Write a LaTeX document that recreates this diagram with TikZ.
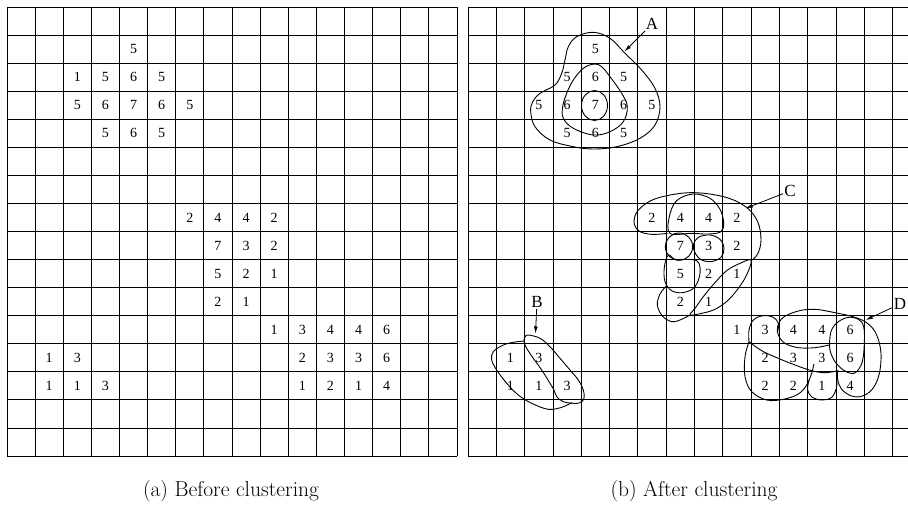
\documentclass[tikz,border=0pt]{standalone}
\usepackage{fontspec}
\newfontfamily\numfont{Liberation Serif}
\usetikzlibrary{arrows.meta}
\begin{document}
\begin{tikzpicture}[x=1pt,y=-1pt,
  gridline/.style={line width=0.8pt},
  num/.style={font=\numfont\fontsize{14}{15}\selectfont, inner sep=0pt},
  lab/.style={font=\numfont\fontsize{17}{18}\selectfont, inner sep=1pt},
  clus/.style={line width=0.9pt},
  arr/.style={line width=0.8pt, -{Latex[length=7pt,width=4pt]}},
  captext/.style={font=\fontsize{21.5}{26}\selectfont, inner sep=0pt}]
\useasboundingbox (0,0) rectangle (908,525);
\begin{scope}
\clip (0,0) rectangle (908,525);
\foreach \i in {0,...,16} {
  \draw[gridline] ({7+\i*28.125},7) -- ({7+\i*28.125},456);
  \draw[gridline] (7,{7+\i*28.0625}) -- (457,{7+\i*28.0625});
  \draw[gridline] ({468+\i*28.3},7) -- ({468+\i*28.3},456);
  \draw[gridline] (468,{7+\i*28.0625}) -- (921,{7+\i*28.0625});
}
\end{scope}
% left numbers
\foreach \c/\r/\v [count=\k] in {5/2/5, 3/3/1,4/3/5,5/3/6,6/3/5, 3/4/5,4/4/6,5/4/7,6/4/6,7/4/5, 4/5/5,5/5/6,6/5/5,
  7/8/2,8/8/4,9/8/4,10/8/2, 8/9/7,9/9/3,10/9/2, 8/10/5,9/10/2,10/10/1, 8/11/2,9/11/1,
  10/12/1,11/12/3,12/12/4,13/12/4,14/12/6, 2/13/1,3/13/3,11/13/2,12/13/3,13/13/3,14/13/6,
  2/14/1,3/14/1,4/14/3,11/14/1,12/14/2,13/14/1,14/14/4}
  \node[num] (L\k) at ({7+(\c-0.5)*28.125},{7+(\r-0.5)*28.0625}) {\v};
% right numbers
\foreach \c/\r/\v [count=\k] in {5/2/5, 4/3/5,5/3/6,6/3/5, 3/4/5,4/4/6,5/4/7,6/4/6,7/4/5, 4/5/5,5/5/6,6/5/5,
  7/8/2,8/8/4,9/8/4,10/8/2, 8/9/7,9/9/3,10/9/2, 8/10/5,9/10/2,10/10/1, 8/11/2,9/11/1,
  10/12/1,11/12/3,12/12/4,13/12/4,14/12/6, 2/13/1,3/13/3,11/13/2,12/13/3,13/13/3,14/13/6,
  2/14/1,3/14/1,4/14/3,11/14/2,12/14/2,13/14/1,14/14/4}
  \node[num] (R\k) at ({468+(\c-0.5)*28.3},{7+(\r-0.5)*28.0625}) {\v};
% cluster A
\draw[clus] (594.5,105.5) ellipse [x radius=13, y radius=15];
\draw[clus] plot[smooth cycle, tension=0.6] coordinates {(594.3,64) (583.3,68.3) (573.3,80) (566.7,93.3) (562.7,106.7) (563.3,118.3) (573.3,128.3) (593.3,135) (610,131.7) (623.3,121.7) (627.3,106.7) (621.7,93.3) (610,76.7) (601.7,66.7)};
\draw[clus] plot[smooth cycle, tension=0.6] coordinates {(593.3,32.3) (576.7,36.7) (568.3,46.7) (565,60) (561.7,73.3) (555,85) (540,93.3) (532.7,101.7) (530.7,111.7) (535,126.7) (550,140) (573.3,146.7) (593.3,149) (616.7,146.7) (640,138.3) (655,125) (660,106.7) (655,88.3) (641.7,70) (625,53.3) (610,38.3)};
\node[lab] (labA) at (652,24) {A};
\coordinate (tipA) at (624.5,51.5);
\draw[arr] (labA) -- (tipA);
% cluster B
\draw[clus] plot[smooth, tension=0.6] coordinates {(525,341) (515,342) (503.3,345) (493.3,351.7) (491.7,360) (496.7,370) (506.7,383.3) (518.3,395) (531.7,403.3) (548.3,409.3) (561.7,407.3) (572,402.5)};
\draw[clus] plot[smooth cycle, tension=0.6] coordinates {(528.3,335) (540,338.3) (550,346.7) (560,358.3) (570,370) (578.3,380) (583.3,390) (584,398.3) (580,402.7) (573.3,403.3) (563.3,401.7) (556.7,396.7) (554,390) (550,383.3) (541.7,370) (533.3,358.3) (526.7,348.3) (524,341.7) (525,337)};
\node[lab] (labB) at (537,302) {B};
\coordinate (tipB) at (535.5,333.5);
\draw[arr] (labB) -- (tipB);
% cluster C and D (local 3x coordinates)
\begin{scope}[shift={(625,180)}, x=0.33333pt, y=-0.33333pt]
\draw[clus] plot[smooth, tension=0.6] coordinates {(128,160) (80,163) (42,153) (27,125) (42,88) (95,55) (195,38) (295,50) (362,80) (398,125) (408,180) (398,222) (378,242)};
\draw[clus] plot[smooth cycle, tension=0.6] coordinates {(378,240) (345,250) (305,272) (268,310) (235,350) (210,385) (195,405) (230,400) (270,388) (310,360) (345,318) (368,278)};
\draw[clus] plot[smooth, tension=0.6] coordinates {(196,405) (165,420) (140,425) (112,408) (97,375) (105,342) (124,318)};
\draw[clus] plot[smooth cycle, tension=0.6] coordinates {(135,160) (133,110) (155,62) (205,42) (255,55) (285,88) (296,128) (288,155) (250,162) (200,160)};
\draw[clus] (162,200) circle [radius=41];
\draw[clus] plot[smooth cycle, tension=0.6] coordinates {(205,195) (220,172) (255,165) (285,178) (297,205) (288,232) (258,245) (230,240) (212,222)};
\draw[clus] plot[smooth cycle, tension=0.6] coordinates {(130,225) (118,262) (120,305) (140,332) (172,338) (205,325) (222,295) (225,262) (215,242) (185,238) (150,238)};
% D
\draw[clus] plot[smooth, tension=0.6] coordinates {(372,485) (372,450) (385,420) (415,407) (445,412) (460,430) (458,455)};
\draw[clus] plot[smooth, tension=0.6] coordinates {(612,495) (570,503) (520,503) (480,490) (460,465) (458,440) (475,412) (520,393) (570,388) (630,398) (690,412) (730,432) (755,465) (768,520) (762,585) (740,630) (705,650) (672,645) (648,625) (638,598) (638,572)};
\draw[clus] plot[smooth cycle, tension=0.6] coordinates {(640,425) (670,412) (700,418) (716,440) (718,490) (712,545) (695,575) (678,580) (655,570) (630,545) (615,510) (615,470) (622,445)};
\draw[clus] plot[smooth, tension=0.6] coordinates {(372,485) (410,512) (460,535) (510,555) (560,572) (600,578) (640,572)};
\draw[clus] plot[smooth, tension=0.6] coordinates {(372,485) (360,530) (360,590) (380,635) (425,660) (475,658) (520,642) (545,615) (560,580) (565,560) (567,552)};
\draw[clus] plot[smooth, tension=0.6] coordinates {(552,600) (548,630) (562,652) (592,660) (620,652) (634,625) (636,590) (638,575)};
\end{scope}
\node[lab] (labC) at (790,191) {C};
\coordinate (tipC) at (745.7,208.3);
\draw[arr] (labC) -- (tipC);
\node[lab] (labD) at (900,304) {D};
\coordinate (tipD) at (865.7,320);
\draw[arr] (labD) -- (tipD);
% captions
\node[captext] (capa) at (231,491) {(a) Before clustering};
\node[captext] (capb) at (694,491) {(b) After clustering};
\end{tikzpicture}
\end{document}
